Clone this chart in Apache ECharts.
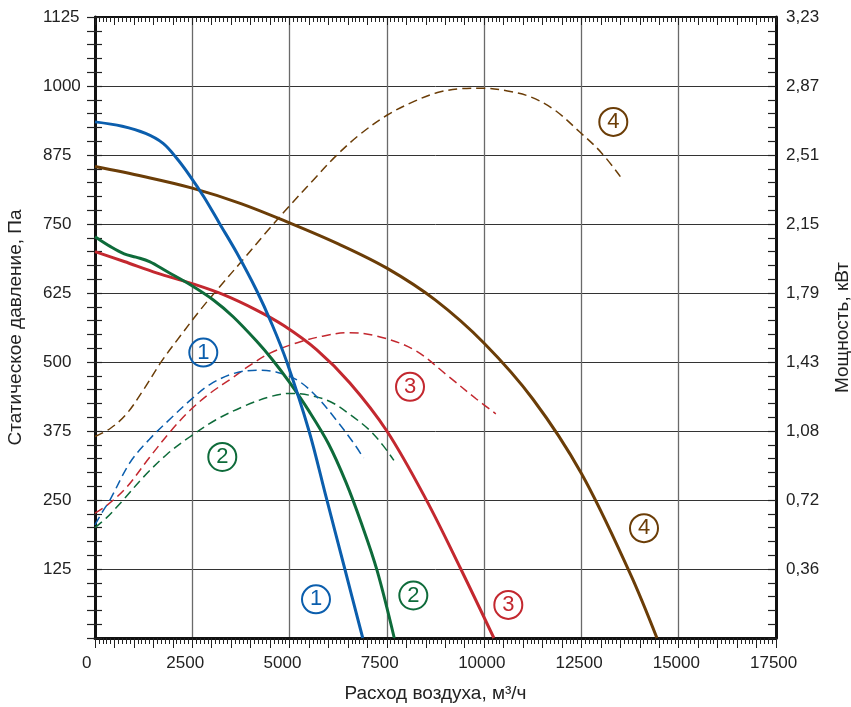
<!DOCTYPE html>
<html><head><meta charset="utf-8">
<script src="https://cdn.jsdelivr.net/npm/echarts@6/dist/echarts.min.js"></script>
<style>html,body{margin:0;padding:0;background:#fff;overflow:hidden}#c{width:851px;height:707px}</style>
</head><body><div id="c"></div>
<script>
// ---- tick labels ----
const flowLabels = ['0','2500','5000','7500','10000','12500','15000','17500'];
const pressureLabels = ['','125','250','375','500','625','750','875','1000','1125'];
const powerLabels = ['','0,36','0,72','1,08','1,43','1,79','2,15','2,51','2,87','3,23'];

// ---- pressure curves [flow m3/h, Pa] ----
const press1 = [[0,935],[700,927],[1300,914],[1750,896],[2100,869],[2450,836],[2800,799],[3200,751],[3650,697],[4150,630],[4550,568],[4930,500],[5500,375],[5940,255],[6420,125],[6880,0]];
const press2 = [[0,727],[400,709],[750,696],[1050,690],[1400,682],[1850,664],[2450,640],[3050,612],[3550,582],[4150,538],[4550,505],[5000,463],[5500,411],[6000,352],[6450,282],[6850,207],[7250,122],[7690,0]];
const press3 = [[0,700],[750,682],[1600,661],[2450,643],[3300,622],[4150,594],[4850,566],[5700,522],[6550,462],[7500,375],[8500,252],[9400,125],[10250,0]];
const press4 = [[0,854],[1250,836],[2500,815],[3750,787],[5000,752],[6250,714],[7500,670],[8750,612],[10000,534],[11250,433],[12500,298],[13750,117],[14440,0]];

// ---- power curves [flow m3/h, kW] ----
const power1 = [[0,0.589],[170,0.649],[400,0.724],[900,0.913],[1400,1.034],[1950,1.143],[2450,1.237],[2950,1.318],[3550,1.375],[4150,1.393],[4650,1.384],[5200,1.341],[5700,1.255],[6200,1.134],[6650,1.013],[6900,0.936]];
const power2 = [[0,0.574],[300,0.626],[700,0.712],[1250,0.838],[1850,0.956],[2450,1.048],[3100,1.134],[3800,1.203],[4500,1.255],[5000,1.272],[5500,1.263],[6050,1.229],[6550,1.163],[7050,1.082],[7400,1.002],[7680,0.924]];
const power3 = [[0,0.649],[300,0.689],[800,0.781],[1400,0.939],[1950,1.077],[2450,1.186],[2950,1.272],[3500,1.349],[4000,1.421],[4500,1.482],[5200,1.536],[5850,1.570],[6500,1.588],[7250,1.570],[8200,1.499],[9100,1.358],[9800,1.243],[10300,1.166]];
const power4 = [[0,1.048],[400,1.091],[800,1.163],[1250,1.292],[1700,1.436],[2200,1.573],[2700,1.705],[3200,1.826],[3800,1.967],[4400,2.110],[5000,2.248],[5600,2.380],[6200,2.509],[6800,2.618],[7500,2.719],[8200,2.791],[8800,2.837],[9400,2.857],[10000,2.860],[10600,2.845],[11200,2.814],[11800,2.748],[12450,2.633],[13000,2.527],[13500,2.400]];

// ---- circled curve numbers [flow, Pa] ----
const marks1 = [[2783,517],[5679,70]];
const marks2 = [[3271,328],[8180,77]];
const marks3 = [[8095,455],[10621,60]];
const marks4 = [[13319,935],[14108,199]];

const colors = ['#0b5ead','#0e6b3a','#c3282f','#6b3d07'];
const FONT = 'Liberation Sans, Arial, sans-serif';
const PMAX = 3.23, PSTEP = PMAX/9;
const TICK_FS = 17, NAME_FS = 19;

function markPoint(list, num, color){
  return {
    silent: true, symbol: 'circle', symbolSize: 28,
    itemStyle: {color: 'rgba(255,255,255,0)', borderColor: color, borderWidth: 2},
    label: {show: true, position: 'inside', formatter: num, color: color, fontSize: 22, fontFamily: FONT},
    data: list.map(c => ({coord: c}))
  };
}
function solid(data, color, marks, num){
  return {type:'line', xAxisIndex:0, yAxisIndex:0, data, smooth:0.35, symbol:'none',
    lineStyle:{color, width:3}, z:3, markPoint: markPoint(marks, num, color)};
}
function dashed(data, color){
  return {type:'line', xAxisIndex:0, yAxisIndex:2, data, smooth:0.35, symbol:'none',
    lineStyle:{color, width:1.5, type:[9,5]}, z:2};
}

const chart = echarts.init(document.getElementById('c'));
chart.setOption({
  animation: false,
  backgroundColor: '#fff',
  textStyle: {fontFamily: FONT},
  grid: {left: 95, right: 75, top: 17, bottom: 69, containLabel: false, outerBoundsMode: 'none'},
  xAxis: [
    {type:'value', min:0, max:17500, interval:2500, position:'bottom',
     name:'Расход воздуха, м³/ч', nameLocation:'middle', nameGap:46,
     nameTextStyle:{fontSize:NAME_FS, color:'#222', fontFamily:FONT},
     axisLine:{show:true, onZero:false, lineStyle:{color:'#111', width:3}},
     axisTick:{show:false},
     axisLabel:{margin:17, color:'#222', fontSize:TICK_FS, fontFamily:FONT, align:'center',
       formatter: v => { const i = Math.round(v/2500); return i===0 ? '{z|'+flowLabels[0]+'}' : '{a|'+flowLabels[i]+'}'; },
       rich:{a:{width:52, align:'left', fontSize:TICK_FS, color:'#222', fontFamily:FONT},
             z:{width:26, align:'left', fontSize:TICK_FS, color:'#222', fontFamily:FONT}}},
     splitLine:{show:true, lineStyle:{color:'#6a6a6a', width:1.3}}},
    {type:'value', min:0, max:17500, interval:500, position:'bottom',
     axisLine:{show:false}, axisLabel:{show:false}, splitLine:{show:false},
     axisTick:{show:true, length:10, lineStyle:{color:'#222', width:1}},
     minorTick:{show:true, splitNumber:5, length:6, lineStyle:{color:'#222', width:1}}},
    {type:'value', min:0, max:17500, interval:500, position:'top',
     axisLine:{show:true, onZero:false, lineStyle:{color:'#111', width:2}}, axisLabel:{show:false}, splitLine:{show:false},
     axisTick:{show:true, inside:true, length:8, lineStyle:{color:'#222', width:1}},
     minorTick:{show:true, splitNumber:5, length:5, lineStyle:{color:'#222', width:1}}}
  ],
  yAxis: [
    {type:'value', min:0, max:1125, interval:125, position:'left',
     name:'Статическое давление, Па', nameLocation:'middle', nameGap:70, nameRotate:90,
     nameTextStyle:{fontSize:NAME_FS, color:'#222', fontFamily:FONT},
     axisLine:{show:true, onZero:false, lineStyle:{color:'#111', width:3}},
     axisTick:{show:true, length:8, lineStyle:{color:'#222', width:1.2}},
     minorTick:{show:true, splitNumber:5, length:8, lineStyle:{color:'#222', width:1.2}},
     axisLabel:{align:'left', margin:52, color:'#222', fontSize:TICK_FS, fontFamily:FONT,
       formatter: v => pressureLabels[Math.round(v/125)]},
     splitLine:{show:true, lineStyle:{color:'#333', width:1}}},
    {type:'value', min:0, max:1125, interval:125, position:'left',
     axisLine:{show:false}, axisLabel:{show:false}, splitLine:{show:false},
     axisTick:{show:true, inside:true, length:7, lineStyle:{color:'#222', width:1.2}},
     minorTick:{show:true, splitNumber:5, length:7, lineStyle:{color:'#222', width:1.2}}},
    {type:'value', min:0, max:PMAX, interval:PSTEP, position:'right',
     name:'Мощность, кВт', nameLocation:'middle', nameGap:57, nameRotate:90,
     nameTextStyle:{fontSize:NAME_FS, color:'#222', fontFamily:FONT},
     axisLine:{show:true, onZero:false, lineStyle:{color:'#111', width:3}},
     axisTick:{show:true, inside:true, length:8, lineStyle:{color:'#222', width:1.2}},
     minorTick:{show:true, splitNumber:5, length:8, lineStyle:{color:'#222', width:1.2}},
     axisLabel:{margin:10, color:'#222', fontSize:TICK_FS, fontFamily:FONT,
       formatter: v => powerLabels[Math.round(v/PSTEP)] || ''},
     splitLine:{show:false}}
  ],
  series: [
    dashed(power4, colors[3]),
    dashed(power3, colors[2]),
    dashed(power2, colors[1]),
    dashed(power1, colors[0]),
    solid(press4, colors[3], marks4, '4'),
    solid(press3, colors[2], marks3, '3'),
    solid(press2, colors[1], marks2, '2'),
    solid(press1, colors[0], marks1, '1')
  ]
});
</script></body></html>
